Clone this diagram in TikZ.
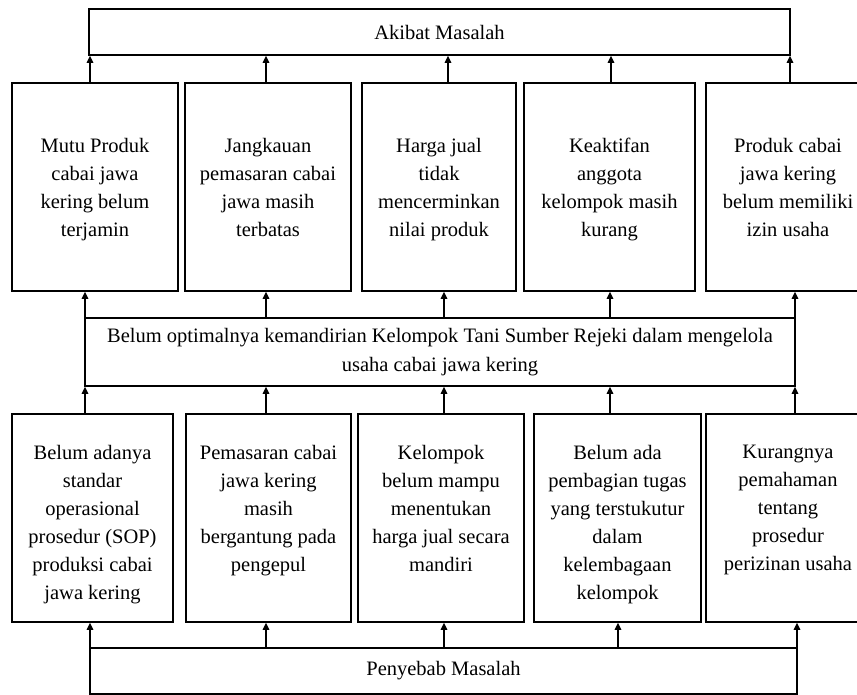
\documentclass[tikz,border=0pt]{standalone}
\usepackage{fontspec}
\setmainfont{Liberation Serif}
\usetikzlibrary{arrows.meta}
\newcommand{\tbxt}[1]{\parbox[c][146pt][t]{158pt}{\centering #1}}
\newcommand{\tbxu}[1]{\parbox[c][98pt][t]{148pt}{\centering #1}}
\begin{document}
\begin{tikzpicture}[x=1pt,y=-1pt,
  box/.style={draw, line width=1.6pt, inner sep=0pt, align=center,
    font=\fontsize{20.5}{28}\selectfont, minimum height=208pt},
  wide/.style={draw, line width=1.6pt, inner sep=0pt, align=center,
    font=\fontsize{20.5}{29}\selectfont},
  arr/.style={line width=1.3pt, -{Triangle[length=7pt,width=6.5pt]}}]
\useasboundingbox (0,0) rectangle (857,695);

% top box
\node[wide, minimum width=701pt, minimum height=46pt] (akibat) at (439.5,32) {Akibat Masalah};

% effects row
\node[box, minimum width=166pt] (t1) at (95,187) {\tbxu{Mutu Produk\\cabai jawa\\kering belum\\terjamin}};
\node[box, minimum width=166pt] (t2) at (268,187) {\tbxu{Jangkauan\\pemasaran cabai\\jawa masih\\terbatas}};
\node[box, minimum width=154pt] (t3) at (439,187) {\tbxu{Harga jual\\tidak\\mencerminkan\\nilai produk}};
\node[box, minimum width=171pt] (t4) at (609.5,187) {\tbxu{Keaktifan\\anggota\\kelompok masih\\kurang}};
\node[box, minimum width=164pt] (t5) at (788,187) {\tbxu{Produk cabai\\jawa kering\\belum memiliki\\izin usaha}};

% core problem
\node[wide, minimum width=710pt, minimum height=68pt] (mid) at (440,352)
  {Belum optimalnya kemandirian Kelompok Tani Sumber Rejeki dalam mengelola\\usaha cabai jawa kering};

% causes row
\node[box, minimum width=161pt] (b1) at (92.5,518) {\tbxt{Belum adanya\\standar\\operasional\\prosedur (SOP)\\produksi cabai\\jawa kering}};
\node[box, minimum width=165pt] (b2) at (268.5,518) {\tbxt{Pemasaran cabai\\jawa kering\\masih\\bergantung pada\\pengepul}};
\node[box, minimum width=166pt] (b3) at (441,518) {\tbxt{Kelompok\\belum mampu\\menentukan\\harga jual secara\\mandiri}};
\node[box, minimum width=167pt] (b4) at (617.5,518) {\tbxt{Belum ada\\pembagian tugas\\yang terstukutur\\dalam\\kelembagaan\\kelompok}};
\node[box, minimum width=164pt] (b5) at (788,518) {\tbxt{Kurangnya\\pemahaman\\tentang\\prosedur\\perizinan usaha}};

% bottom box
\node[wide, minimum width=707pt, minimum height=46pt] (penyebab) at (443.5,671) {Penyebab Masalah};

% column coordinates
\coordinate (a1) at (90,0);  \coordinate (a2) at (266,0); \coordinate (a3) at (448,0);
\coordinate (a4) at (611,0); \coordinate (a5) at (790,0);
\coordinate (m1) at (85,0);  \coordinate (m2) at (266,0); \coordinate (m3) at (444,0);
\coordinate (m4) at (610,0); \coordinate (m5) at (795,0);
\coordinate (p1) at (90,0);  \coordinate (p2) at (266,0); \coordinate (p3) at (444,0);
\coordinate (p4) at (618,0); \coordinate (p5) at (797,0);

% effects -> Akibat
\foreach \i in {1,...,5} {
  \draw[arr] (t\i.north -| a\i) -- (akibat.south -| a\i);
}
% core -> effects
\foreach \i in {1,...,5} {
  \draw[arr] (mid.north -| m\i) -- (t\i.south -| m\i);
}
% causes -> core
\foreach \i in {1,...,5} {
  \draw[arr] (b\i.north -| m\i) -- (mid.south -| m\i);
}
% Penyebab -> causes
\foreach \i in {1,...,5} {
  \draw[arr] (penyebab.north -| p\i) -- (b\i.south -| p\i);
}
\end{tikzpicture}
\end{document}
